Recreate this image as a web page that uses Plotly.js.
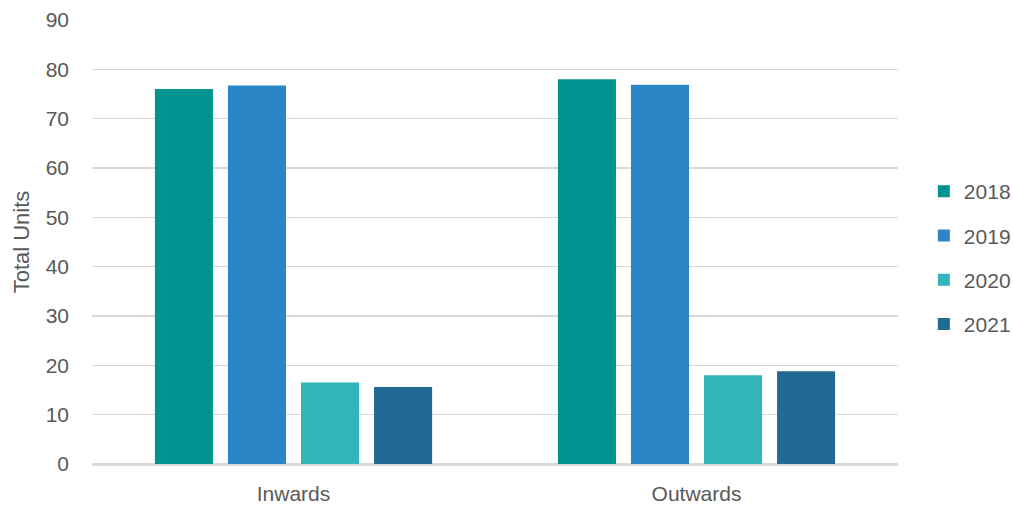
<!DOCTYPE html>
<html>
<head>
<meta charset="utf-8">
<script src="https://cdn.plot.ly/plotly-3.0.1.min.js"></script>
<style>
  html, body { margin: 0; padding: 0; background: #fff; }
  #chart { width: 1013px; height: 506px; }
</style>
</head>
<body>
<div id="chart"></div>
<script>
// Directions shown on the category axis
const categories = ['Inwards', 'Outwards'];

// Total units per year
const years = ['2018', '2019', '2020', '2021'];
const units2018 = [76.0, 78.0];
const units2019 = [76.7, 76.9];
const units2020 = [16.5, 18.0];
const units2021 = [15.6, 18.8];

const seriesValues = [units2018, units2019, units2020, units2021];
const seriesColors = ['#009490', '#2B86C8', '#31B5B9', '#226A94'];

const yTicks = [0, 10, 20, 30, 40, 50, 60, 70, 80, 90];

const traces = years.map((yr, i) => ({
  type: 'bar',
  name: yr,
  x: categories,
  y: seriesValues[i],
  marker: { color: seriesColors[i], line: { width: 0 } },
  legendgroup: yr,
  hoverinfo: 'x+y+name'
}));

const layout = {
  width: 1013,
  height: 506,
  margin: { l: 92, r: 115, t: 20, b: 42, autoexpand: false },
  paper_bgcolor: '#ffffff',
  plot_bgcolor: '#ffffff',
  font: { family: 'Liberation Sans, Arial, sans-serif', color: '#595959', size: 21 },
  barmode: 'group',
  bargap: 0.275,
  bargroupgap: 0.205,
  showlegend: true,
  legend: {
    xref: 'container', yref: 'container',
    x: 0.912, xanchor: 'left',
    y: 0.49, yanchor: 'middle',
    font: { size: 21, color: '#595959' },
    tracegroupgap: 14,
    itemwidth: 30
  },
  xaxis: {
    type: 'category',
    showgrid: false,
    showline: true,
    linecolor: '#d9d9d9',
    linewidth: 1.5,
    ticks: '',
    tickfont: { size: 21, color: '#595959' },
    ticklabelstandoff: 10
  },
  yaxis: {
    range: [0, 90],
    tickvals: yTicks,
    ticktext: yTicks.map(String),
    showgrid: true,
    gridcolor: '#d9d9d9',
    gridwidth: 1.5,
    zeroline: true,
    zerolinecolor: '#d9d9d9',
    zerolinewidth: 1.5,
    showline: false,
    ticks: '',
    tickfont: { size: 21, color: '#595959' },
    ticklabelstandoff: 22,
    title: { text: 'Total Units', font: { size: 22, color: '#595959' }, standoff: 9 }
  }
};

Plotly.newPlot('chart', traces, layout, { displayModeBar: false, staticPlot: true });
</script>
</body>
</html>
